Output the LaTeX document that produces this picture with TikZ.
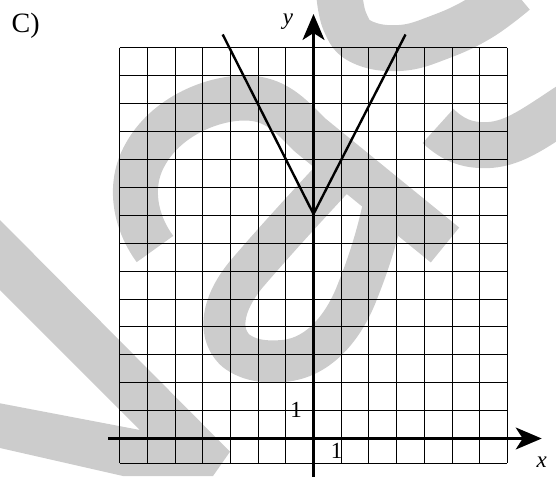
\documentclass[tikz,border=0pt]{standalone}
\usepackage{fontspec}
\setmainfont{Liberation Serif}
\usetikzlibrary{arrows.meta}
\definecolor{wm}{HTML}{CCCCCC}
\begin{document}
\begin{tikzpicture}[x=1pt,y=-1pt,
  wmband/.style={draw=wm, line cap=butt, line join=round},
  gridline/.style={line width=0.9pt},
  axisline/.style={line width=2.4pt, -{Stealth[length=26pt,width=22pt,inset=7pt]}},
  graphline/.style={line width=2.4pt, line join=miter},
  lbl/.style={font=\fontsize{23}{25}\selectfont, inner sep=0pt}]
\useasboundingbox (0,0) rectangle (556,476);
% watermark
\fill[wm] (0,220) -- (230,451.7) -- (213,476) -- (123,476) -- (0,448) -- (0,403.3) -- (140,430) -- (0,290) -- cycle;
\draw[wmband, line width=45pt] (155,249) .. controls (135,222) and (128,185) .. (145,155)
  .. controls (165,118) and (210,98) .. (245,98)
  .. controls (275,98) and (290,115) .. (310,135) -- (445,245);
\draw[wmband, line width=42pt] (345,165) .. controls (320,192) and (280,235) .. (250,270)
  .. controls (225,298) and (215,330) .. (235,350)
  .. controls (250,362) and (268,362) .. (283,361)
  .. controls (320,358) and (345,325) .. (358,290)
  .. controls (368,265) and (378,235) .. (385,200);
\draw[wmband, line width=46pt] plot[smooth,tension=0.7] coordinates {(339,-8) (345,22) (362,42) (400,48) (440,37) (480,18) (515,-8)};
\draw[wmband, line width=46pt] (438,126) .. controls (455,142) and (470,146) .. (490,145)
  .. controls (515,143) and (535,128) .. (570,105);
% grid
\foreach \k in {0,...,14} \draw[gridline] ({119.6+27.7*\k},47.7) -- ({119.6+27.7*\k},463.3);
\foreach \k in {0,...,13} \draw[gridline] (119.6,{47.7+27.92*\k}) -- (507.4,{47.7+27.92*\k});
\draw[gridline] (119.6,463.3) -- (507.4,463.3);
% axes
\coordinate (xs) at (108.3,438.5);
\coordinate (xe) at (541.7,438.5);
\coordinate (ys) at (313.5,480);
\coordinate (ye) at (313.5,14);
\draw[axisline] (xs) -- (xe);
\draw[axisline] (ys) -- (ye);
% graph
\coordinate (vL) at (222.7,34.5);
\coordinate (vV) at (313.5,214);
\coordinate (vR) at (405.5,34.5);
\draw[graphline] (vL) -- (vV) -- (vR);
% labels
\node[anchor=base west, inner sep=0pt, font=\fontsize{28}{30}\selectfont] (lc) at (11.5,32.3) {C)};
\node[lbl, anchor=base] (ly) at (288,24.5) {\textit{y}};
\node[lbl, anchor=base] (lx) at (541.7,467.3) {\textit{x}};
\node[lbl, anchor=base] (l1y) at (296,417.3) {1};
\node[lbl, anchor=base] (l1x) at (336.5,458.3) {1};
\end{tikzpicture}
\end{document}
